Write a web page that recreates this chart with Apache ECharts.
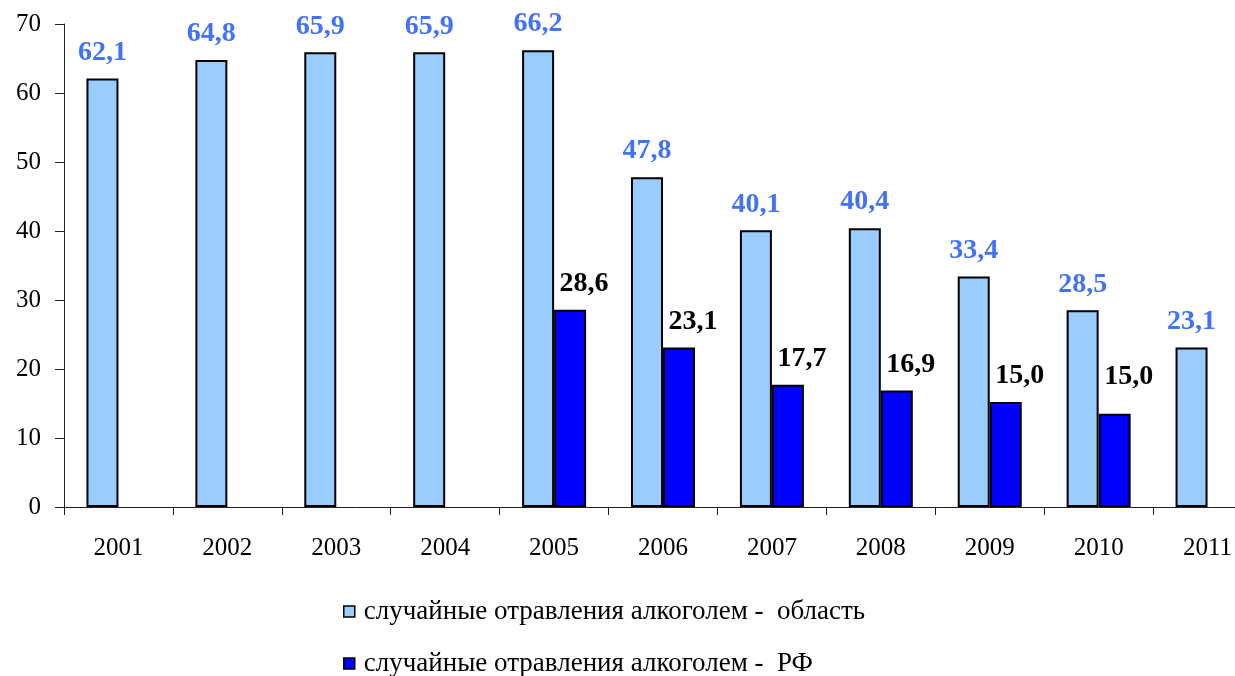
<!DOCTYPE html>
<html>
<head>
<meta charset="utf-8">
<script src="https://cdn.jsdelivr.net/npm/echarts@6/dist/echarts.min.js"></script>
<style>
  html, body { margin: 0; padding: 0; background: #fff; }
  #chart { width: 1235px; height: 676px; }
</style>
</head>
<body>
<div id="chart"></div>
<script>
const years = ['2001', '2002', '2003', '2004', '2005', '2006', '2007', '2008', '2009', '2010', '2011']
const regionValues = [62.1, 64.8, 65.9, 65.9, 66.2, 47.8, 40.1, 40.4, 33.4, 28.5, 23.1]
const rfValues = [null, null, null, null, 28.6, 23.1, 17.7, 16.9, 15.2, 13.5, null]
// подписи как на исходной диаграмме (для 2010 подпись не совпадает с высотой столбца)
const rfLabels = ['', '', '', '', '28,6', '23,1', '17,7', '16,9', '15,0', '15,0', '']
const yTicks = [0, 10, 20, 30, 40, 50, 60, 70]
const seriesNames = ['случайные отравления алкоголем -  область', 'случайные отравления алкоголем -  РФ']

const font = '"Liberation Serif", "Times New Roman", serif'
const fmt = v => v.toFixed(1).replace('.', ',')

const chart = echarts.init(document.getElementById('chart'))

const rfData = rfValues.map((v, i) => {
  if (v === null) return null
  const item = { value: v }
  // подпись 2010 стоит на уровне 15,0, а не над столбцом
  if (i === 9) item.label = { offset: [14, -11] }
  return item
})

const legendBase = {
  left: 338,
  itemWidth: 11,
  itemHeight: 11,
  icon: 'rect',
  itemStyle: { borderColor: '#000', borderWidth: 1.5 },
  textStyle: { fontFamily: font, fontSize: 27, color: '#000', padding: [0, 0, 0, 4] }
}

chart.setOption({
  animation: false,
  // сетка шире окна: последняя категория обрезана справа, как в оригинале
  grid: { left: 64, top: 24, height: 483, width: 1198, outerBoundsMode: 'none' },
  legend: [
    Object.assign({}, legendBase, { top: 593, data: [seriesNames[0]] }),
    Object.assign({}, legendBase, { top: 645, data: [seriesNames[1]] })
  ],
  xAxis: {
    type: 'category',
    data: years,
    axisLine: { lineStyle: { color: '#222', width: 1 } },
    axisTick: { show: true, length: 8, lineStyle: { color: '#222' } },
    axisLabel: { fontFamily: font, fontSize: 25, color: '#000', margin: 29 }
  },
  yAxis: {
    type: 'value',
    min: yTicks[0],
    max: yTicks[yTicks.length - 1],
    interval: 10,
    splitLine: { show: false },
    axisLine: { show: true, lineStyle: { color: '#222', width: 1 } },
    axisTick: { show: true, length: 9, lineStyle: { color: '#222' } },
    axisLabel: { fontFamily: font, fontSize: 25, color: '#000', margin: 23 }
  },
  series: [
    {
      name: seriesNames[0],
      type: 'bar',
      data: regionValues,
      barWidth: 32,
      barGap: '0%',
      itemStyle: { color: '#99CCFF', borderColor: '#000', borderWidth: 2 },
      label: {
        show: true,
        position: 'top',
        distance: 12,
        fontFamily: font,
        fontSize: 28,
        fontWeight: 'bold',
        color: '#4272F5',
        formatter: p => fmt(p.value)
      }
    },
    {
      name: seriesNames[1],
      type: 'bar',
      data: rfData,
      barWidth: 32,
      barGap: '0%',
      itemStyle: { color: '#0000FF', borderColor: '#000', borderWidth: 2 },
      label: {
        show: true,
        position: 'top',
        distance: 12,
        offset: [14, 0],
        fontFamily: font,
        fontSize: 28,
        fontWeight: 'bold',
        color: '#000',
        formatter: p => rfLabels[p.dataIndex]
      }
    }
  ]
})
</script>
</body>
</html>
